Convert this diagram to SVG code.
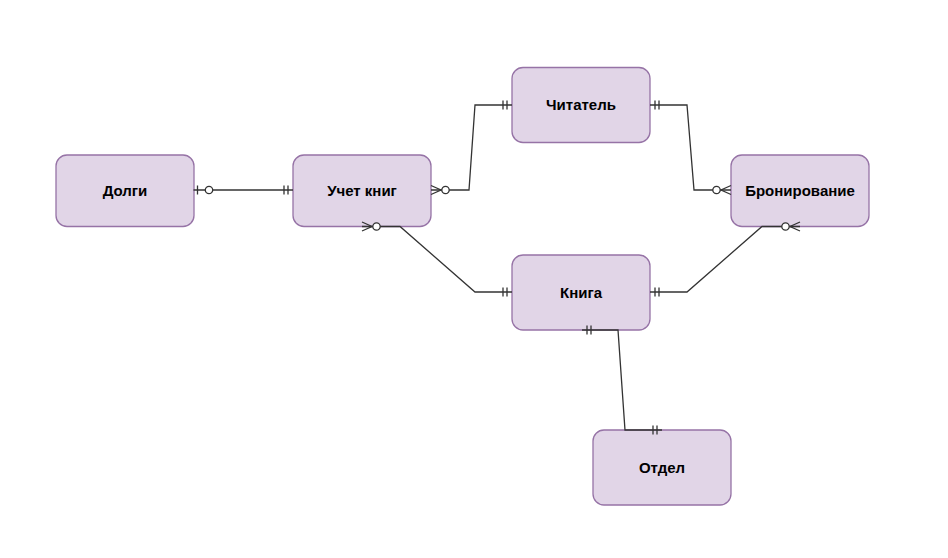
<svg xmlns="http://www.w3.org/2000/svg" width="948" height="558" viewBox="0 0 948 558">
<style>
.node rect{fill:#e1d5e7;stroke:#9673a6;stroke-width:1.3}
.node text{font-family:"Liberation Sans",Arial,Helvetica,sans-serif;font-weight:bold;font-size:15px;fill:#000;text-anchor:middle}
.edge{fill:none;stroke:#333;stroke-width:1.3}
.mk{fill:#fff;stroke:#333;stroke-width:1.3}
</style>
<defs>
<marker id="mandOne" markerUnits="userSpaceOnUse" orient="auto-start-reverse" markerWidth="30" markerHeight="30" refX="0" refY="0" viewBox="-20 -10 30 20" overflow="visible">
<path class="mk" d="M-5,-4.5V4.5M-9,-4.5V4.5"/>
</marker>
<marker id="zeroOne" markerUnits="userSpaceOnUse" orient="auto-start-reverse" markerWidth="30" markerHeight="30" refX="0" refY="0" viewBox="-20 -10 30 20" overflow="visible">
<path class="mk" d="M-4,-4.5V4.5"/>
<circle class="mk" cx="-15.5" cy="0" r="3.7"/>
</marker>
<marker id="zeroMany" markerUnits="userSpaceOnUse" orient="auto-start-reverse" markerWidth="30" markerHeight="30" refX="0" refY="0" viewBox="-20 -10 30 20" overflow="visible">
<path class="mk" style="fill:none" d="M0,-4.5L-10,0L0,4.5"/>
<circle class="mk" cx="-14.5" cy="0" r="3.7"/>
</marker>
</defs>
<rect width="948" height="558" fill="#fff"/>
<g id="dolgi" class="node"><rect x="56" y="155" width="138" height="71.5" rx="11"/><text x="125" y="196">Долги</text></g>
<g id="uchet" class="node"><rect x="293" y="155" width="138" height="71.5" rx="11"/><text x="362" y="196">Учет книг</text></g>
<g id="chitatel" class="node"><rect x="512" y="67.5" width="138" height="75" rx="11"/><text x="581" y="110">Читатель</text></g>
<g id="bron" class="node"><rect x="731" y="155" width="138" height="71.5" rx="11"/><text x="800" y="196">Бронирование</text></g>
<g id="kniga" class="node"><rect x="512" y="255" width="138" height="75" rx="11"/><text x="581" y="298">Книга</text></g>
<g id="otdel" class="node"><rect x="593" y="430" width="138" height="75" rx="11"/><text x="662" y="473">Отдел</text></g>
<g id="connectors">
<path class="edge" d="M193.5,190H293" marker-start="url(#zeroOne)" marker-end="url(#mandOne)"/>
<path class="edge" d="M431,190H469L475,105H512" marker-start="url(#zeroMany)" marker-end="url(#mandOne)"/>
<path class="edge" d="M650,105H687L694,190H731" marker-start="url(#mandOne)" marker-end="url(#zeroMany)"/>
<path class="edge" d="M362,226.5H400L475,292H512" marker-start="url(#zeroMany)" marker-end="url(#mandOne)"/>
<path class="edge" d="M800,226.5H762L687,292H650" marker-start="url(#zeroMany)" marker-end="url(#mandOne)"/>
<path class="edge" d="M582,330H618L625,430H662" marker-start="url(#mandOne)" marker-end="url(#mandOne)"/>
</g>
</svg>
